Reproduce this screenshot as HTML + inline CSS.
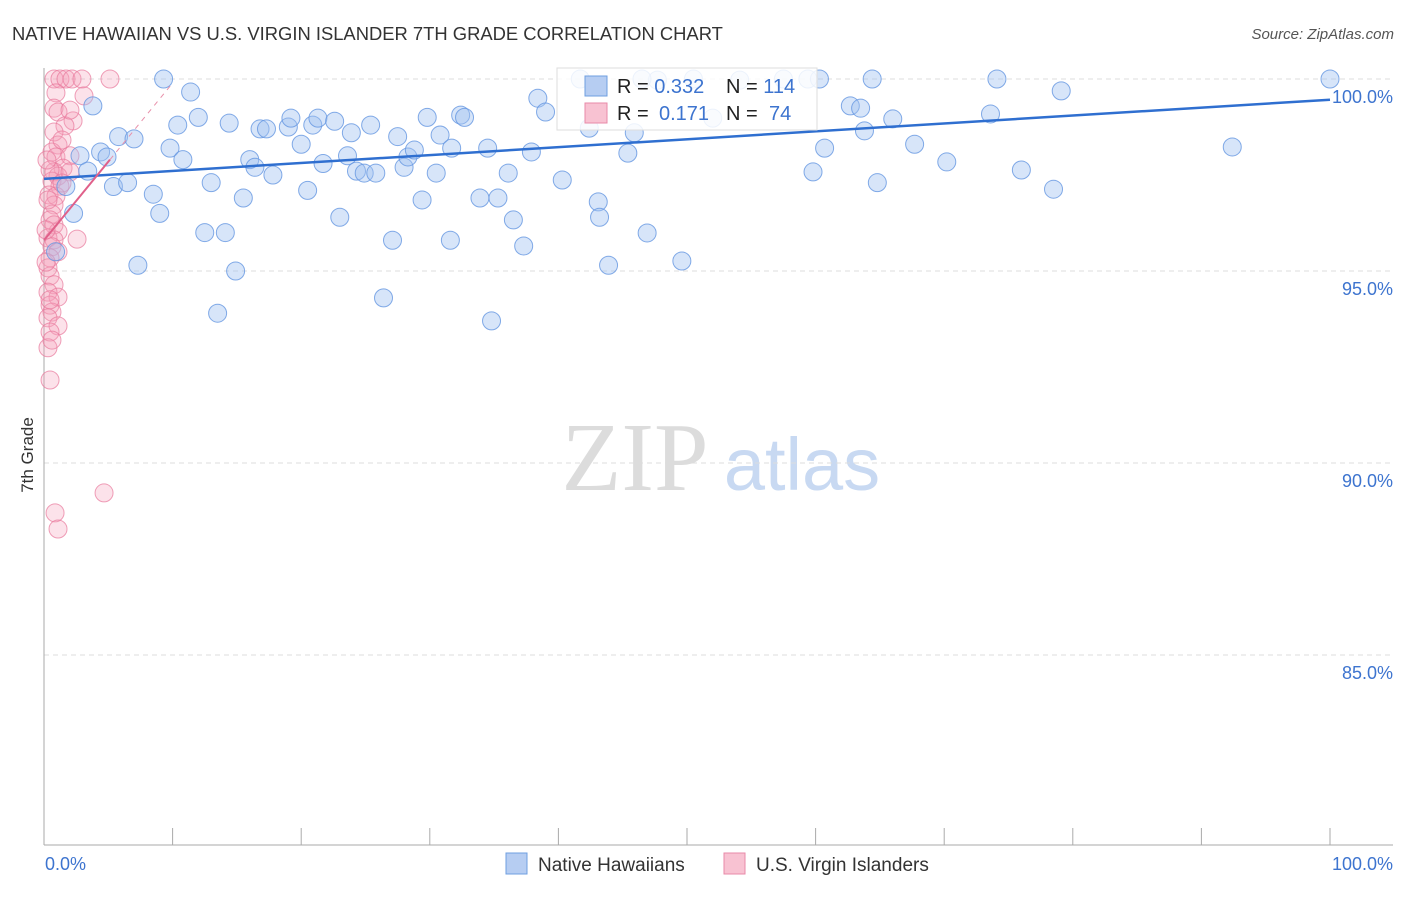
<!DOCTYPE html>
<html><head><meta charset="utf-8"><style>
body{margin:0;background:#fff;font-family:"Liberation Sans",sans-serif;}
</style></head><body>
<svg id="chart" width="1406" height="892" xmlns="http://www.w3.org/2000/svg" font-family="Liberation Sans, sans-serif">
<text x="12" y="40" font-size="18.4" fill="#333">NATIVE HAWAIIAN VS U.S. VIRGIN ISLANDER 7TH GRADE CORRELATION CHART</text>
<text x="1394" y="39" font-size="15" fill="#555" text-anchor="end" font-style="italic">Source: ZipAtlas.com</text>
<text x="33" y="455" font-size="17" fill="#333" text-anchor="middle" transform="rotate(-90 33 455)">7th Grade</text>
<g>
<text x="635" y="490" font-size="98" fill="#dcdcdc" text-anchor="middle" style="font-family:'Liberation Serif',serif">ZIP</text>
<text x="802" y="490" font-size="74" fill="#c8d9f2" text-anchor="middle">atlas</text>
</g>
<g id="grid"></g>
<g id="axes"></g>
<g id="pink"></g>
<g id="blue"></g>
<g id="trends"></g>
<g>
<rect x="557" y="68" width="260" height="62" fill="#fff" fill-opacity="0.85" stroke="#ddd"/>
<rect x="585" y="76" width="22" height="20" fill="#b6cdf2" stroke="#6f9fe0"/>
<text x="617" y="93" font-size="20" fill="#222">R = <tspan fill="#3d74cf">0.332</tspan></text>
<text x="726" y="93" font-size="20" fill="#222">N = <tspan fill="#3d74cf">114</tspan></text>
<rect x="585" y="103" width="22" height="20" fill="#f8c2d2" stroke="#e88aa8"/>
<text x="617" y="120" font-size="20" fill="#222">R =  <tspan fill="#3d74cf" x="659">0.171</tspan></text>
<text x="726" y="120" font-size="20" fill="#222">N = <tspan fill="#3d74cf" x="769">74</tspan></text>
</g>
<g>
<rect x="506" y="853" width="21" height="21" fill="#b6cdf2" stroke="#6f9fe0"/>
<text x="538" y="871" font-size="19" fill="#333">Native Hawaiians</text>
<rect x="724" y="853" width="21" height="21" fill="#f8c2d2" stroke="#e88aa8"/>
<text x="756" y="871" font-size="19" fill="#333">U.S. Virgin Islanders</text>
</g>
</svg>
<script>
const yTicks=[100,95,90,85];
const yTickLabels=["100.0%","95.0%","90.0%","85.0%"];
const blueX=[9.3,11.4,3.8,5.8,7.0,4.4,2.8,4.9,3.4,1.7,5.4,6.5,2.3,8.5,9.0,7.3,0.9,9.8,10.4,12.0,10.8,13.0,14.4,12.5,14.1,14.9,13.5,15.5,16.0,16.4,16.8,17.3,17.8,19.0,19.2,20.0,20.5,20.9,21.3,21.7,22.6,23.0,23.6,23.9,24.3,24.9,25.4,25.8,26.4,27.1,27.5,28.0,28.3,28.8,29.4,29.8,30.5,30.8,31.6,31.7,32.4,32.7,33.9,34.5,34.8,35.3,36.1,36.5,37.3,37.9,38.4,39.0,40.3,41.7,42.4,43.1,43.2,43.9,45.4,45.9,46.9,47.7,49.6,52.0,54.1,59.4,59.8,60.3,60.7,62.7,63.5,63.8,64.4,64.8,66.0,67.7,70.2,73.6,74.1,76.0,78.5,79.1,92.4,100,46.5,50.5,57.5];
const blueY=[100,99.66,99.3,98.5,98.44,98.1,98.0,97.97,97.6,97.2,97.2,97.3,96.5,97.0,96.5,95.15,95.5,98.2,98.8,99.0,97.9,97.3,98.85,96.0,96.0,95.0,93.9,96.9,97.9,97.7,98.7,98.7,97.5,98.75,98.98,98.3,97.1,98.8,98.98,97.8,98.9,96.4,98.0,98.6,97.6,97.55,98.8,97.55,94.3,95.8,98.5,97.7,97.97,98.15,96.85,99.0,97.55,98.54,95.8,98.2,99.06,99.0,96.9,98.2,93.7,96.9,97.55,96.33,95.65,98.1,99.5,99.14,97.37,100,98.72,96.8,96.4,95.15,98.07,98.6,95.99,99.97,95.26,98.98,99.97,100,97.58,100,98.2,99.3,99.24,98.65,100,97.3,98.96,98.3,97.84,99.09,100,97.63,97.13,99.69,98.23,100,100,100,100];
const pinkX=[0.78,1.24,1.71,2.18,2.95,5.13,0.93,3.11,0.78,1.09,2.26,1.63,0.78,1.09,0.62,0.93,2.02,1.48,0.78,1.09,2.02,0.62,1.24,0.39,0.93,0.78,0.62,0.47,0.78,1.09,0.31,0.78,2.57,0.62,1.09,0.47,0.31,0.47,0.78,0.31,1.09,0.47,0.62,0.31,1.09,0.47,0.31,0.47,4.67,0.86,1.09,1.4,0.47,0.31,0.16,0.16,0.47,0.62,1.4,2.02,0.23];
const pinkY=[100,100,100,100,100,100,99.64,99.56,99.24,99.14,98.91,98.78,98.62,98.28,98.1,97.97,98.0,97.68,97.58,97.47,97.58,97.34,97.21,96.98,96.95,96.72,96.48,96.33,96.2,96.02,95.86,95.81,95.83,95.63,95.5,95.34,95.08,94.87,94.64,94.45,94.32,94.11,93.93,93.78,93.57,93.41,93.0,92.16,89.22,88.7,88.28,97.29,97.63,96.85,96.07,95.23,94.25,93.2,98.41,99.19,97.89];
const blueTrend=[97.4,99.46];
const pinkTrend=[95.8,97.9,5.13,10];

const X0=44,X1=1330,Y0=845,Y1=79;
const sx=v=>X0+(v/100)*(X1-X0);
const sy=v=>Y1+(100-v)/(100-80.05)*(Y0-Y1);
const NS="http://www.w3.org/2000/svg";
function mk(tag,attrs,parent){const e=document.createElementNS(NS,tag);for(const k in attrs)e.setAttribute(k,attrs[k]);document.getElementById(parent).appendChild(e);return e;}
yTicks.forEach((t,i)=>{
  const l=mk('line',{x1:X0,x2:1393,y1:sy(t),y2:sy(t),stroke:'#ddd','stroke-dasharray':'5,4'},'grid');
  
  
  const tx=mk('text',{x:1393,y:sy(t)+24,'font-size':18,fill:'#3d74cf','text-anchor':'end'},'grid');
  tx.textContent=yTickLabels[i];
  
  
});
const ya=mk('line',{x1:X0,x2:X0,y1:68,y2:Y0,stroke:'#aaa'},'axes');


const xa=mk('line',{x1:X0,x2:1393,y1:Y0,y2:Y0,stroke:'#aaa'},'axes');


for(let i=0;i<=10;i++){
  const t=mk('line',{x1:sx(i*10),x2:sx(i*10),y1:828,y2:Y0,stroke:'#aaa'},'axes');
  
  
}
const xl=mk('text',{x:45,y:870,'font-size':18,fill:'#3d74cf'},'axes');xl.textContent='0.0%';


const xr=mk('text',{x:1393,y:870,'font-size':18,fill:'#3d74cf','text-anchor':'end'},'axes');xr.textContent='100.0%';


pinkX.forEach((x,i)=>{
  const c=mk('circle',{cx:sx(x),cy:sy(pinkY[i]),r:9,fill:'rgba(245,160,185,0.3)',stroke:'rgba(232,120,155,0.7)','stroke-width':1},'pink');
  
  
});
blueX.forEach((x,i)=>{
  const c=mk('circle',{cx:sx(x),cy:sy(blueY[i]),r:9,fill:'rgba(160,192,240,0.42)',stroke:'rgba(100,150,225,0.8)','stroke-width':1},'blue');
  
  
});
const bt=mk('line',{x1:sx(0),y1:sy(blueTrend[0]),x2:sx(100),y2:sy(blueTrend[1]),stroke:'#2f6fd0','stroke-width':2.5},'trends');


const slope=(pinkTrend[1]-pinkTrend[0])/pinkTrend[2];
const pt=mk('line',{x1:sx(0),y1:sy(pinkTrend[0]),x2:sx(pinkTrend[2]),y2:sy(pinkTrend[1]),stroke:'#e0608a','stroke-width':2},'trends');


const pd=mk('line',{x1:sx(pinkTrend[2]),y1:sy(pinkTrend[1]),x2:sx(pinkTrend[3]),y2:sy(pinkTrend[0]+slope*pinkTrend[3]),stroke:'#e890aa','stroke-width':1,'stroke-dasharray':'5,5'},'trends');


</script>
</body></html>
